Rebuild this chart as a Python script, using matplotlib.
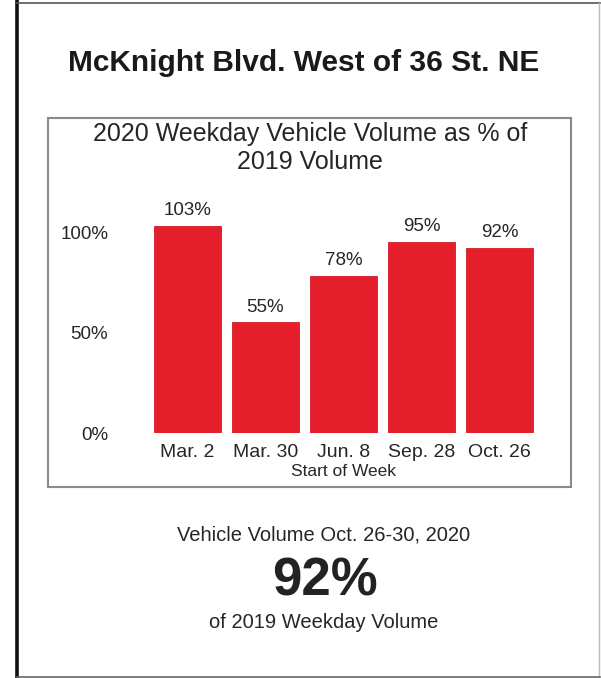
import matplotlib
matplotlib.use("Agg")
import matplotlib.pyplot as plt
from matplotlib.lines import Line2D
from matplotlib.patches import Rectangle

plt.rcParams['font.family'] = ['Liberation Sans', 'DejaVu Sans']

weeks = ["Mar. 2", "Mar. 30", "Jun. 8", "Sep. 28", "Oct. 26"]
pct_of_2019 = [103, 55, 78, 95, 92]
ytick_vals = [0, 50, 100]
ytick_labels = ["0%", "50%", "100%"]

main_title = "McKnight Blvd. West of 36 St. NE"
chart_title_l1 = "2020 Weekday Vehicle Volume as % of"
chart_title_l2 = "2019 Volume"
xlabel = "Start of Week"
summary_line1 = "Vehicle Volume Oct. 26-30, 2020"
summary_value = "92%"
summary_line2 = "of 2019 Weekday Volume"

W, H = 601, 678
fig = plt.figure(figsize=(W / 100, H / 100), dpi=100)
fig.patch.set_facecolor("white")

def fx(x):
    return x / W

def fy(y):
    return 1 - y / H

txt = "#262626"

# outer frame
fig.add_artist(Line2D([fx(17), fx(17)], [0, 1], color="#111111", lw=2.6))
fig.add_artist(Line2D([fx(17), fx(600)], [fy(3), fy(3)], color="#555555", lw=1.2))
fig.add_artist(Line2D([fx(599), fx(599)], [fy(3), fy(676)], color="#bbbbbb", lw=1.0))
fig.add_artist(Line2D([fx(17), fx(600)], [fy(676.5), fy(676.5)], color="#666666", lw=1.2))

# inner chart box
fig.add_artist(Rectangle((fx(48), fy(487)), fx(571) - fx(48), fy(118) - fy(487),
                         fill=False, edgecolor="#8a8a8a", lw=1.5))

# main title
fig.text(fx(304), fy(63), main_title, ha="center", va="center",
         fontsize=21.5, fontweight="bold", color="#1a1a1a")

# chart title
fig.text(fx(310), fy(134), chart_title_l1, ha="center", va="center",
         fontsize=18, color=txt)
fig.text(fx(310), fy(162), chart_title_l2, ha="center", va="center",
         fontsize=18, color=txt)

# axes
ax = fig.add_axes([fx(148.5), fy(433), fx(538.5) - fx(148.5), fy(201.9) - fy(433)])
ax.set_facecolor("none")
x = list(range(len(weeks)))
ax.bar(x, pct_of_2019, width=0.86, color="#E41E2B", edgecolor="#D41A27", linewidth=0.6)
for xi, v in zip(x, pct_of_2019):
    ax.annotate(f"{v}%", (xi, v), xytext=(0, 5), textcoords="offset points",
                ha="center", va="bottom", fontsize=13.5, color=txt)
ax.set_xlim(-0.5, len(weeks) - 0.5)
ax.set_ylim(0, 115)
ax.set_yticks(ytick_vals)
ax.set_yticklabels(ytick_labels)
ax.set_xticks(x)
ax.set_xticklabels(weeks)
ax.tick_params(axis="y", length=0, pad=29, labelsize=13.5, labelcolor=txt)
ax.tick_params(axis="x", length=0, pad=8, labelsize=14, labelcolor=txt)
for s in ax.spines.values():
    s.set_visible(False)
ax.set_xlabel(xlabel, fontsize=12.5, color=txt, labelpad=2)

# summary
fig.text(fx(324), fy(535), summary_line1, ha="center", va="center", fontsize=14.5, color=txt)
fig.text(fx(325), fy(582), summary_value, ha="center", va="center", fontsize=38,
         fontweight="bold", color="#222222")
fig.text(fx(324), fy(623), summary_line2, ha="center", va="center", fontsize=14.5, color=txt)

fig.savefig("out.png", dpi=100, facecolor="white")
